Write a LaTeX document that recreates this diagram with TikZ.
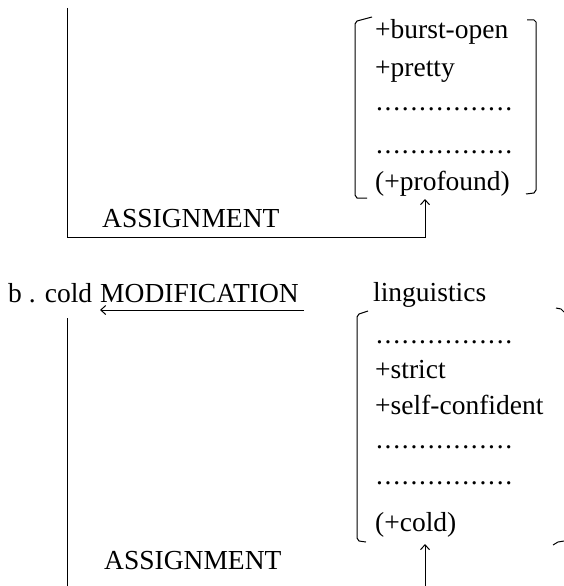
\documentclass[tikz,border=0pt]{standalone}
\usepackage{fontspec}
\setmainfont{Liberation Serif}
\usetikzlibrary{arrows.meta}
\newcommand\dotrow{\hbox to 138pt{\leaders\hbox to 8.625pt{\hss.\hss}\hfill}}
\begin{document}
\begin{tikzpicture}[x=1pt,y=-1pt,
  txt/.style={inner sep=0pt, anchor=base west, font=\fontsize{27.5}{30}\selectfont},
  ln/.style={line width=1pt},
  arr/.style={ln, -{Straight Barb[length=5pt,width=9pt]}}]
\useasboundingbox (0,0) rectangle (564,586);
% ---------- top part ----------
\node[txt] (burst) at (375,39) {+burst-open};
\node[txt] (pretty) at (375,76) {+pretty};
\node[txt] (d1) at (375,110) {\dotrow};
\node[txt] (d2) at (375,153) {\dotrow};
\node[txt] (prof) at (375,190) {(+profound)};
\node[txt] (assign1) at (102,227) {ASSIGNMENT};
% brackets
\draw[ln] (372,17) -- (357,21) -- (355,24) -- (355,195) -- (357,198) -- (367,198);
\draw[ln] (527,20) -- (534,20) -- (536,22) -- (536,190) -- (534,193) -- (526,194);
% connector
\coordinate (c1) at (67,8);
\coordinate (corner1) at (67,237);
\coordinate (tip1) at (425,199);
\draw[arr] (c1) -- (corner1) -| (tip1);
% ---------- bottom part ----------
\node[txt] (b) at (8,302) {b\hspace{7pt}.\hspace{9pt}cold};
\node[txt] (mod) at (100,302) {MODIFICATION};
\node[txt] (ling) at (373,301) {linguistics};
\node[txt] (d3) at (375,343) {\dotrow};
\node[txt] (strict) at (375,378) {+strict};
\node[txt] (self) at (375,414) {+self-confident};
\node[txt] (d4) at (375,448) {\dotrow};
\node[txt] (d5) at (375,484) {\dotrow};
\node[txt] (cold) at (375,531) {(+cold)};
\node[txt] (assign2) at (104,569) {ASSIGNMENT};
\draw[arr] ([xshift=5pt,yshift=-8pt]mod.base east) -- ([yshift=-8pt]mod.base west);
% brackets
\draw[ln] (368,311) -- (359,314) -- (357,317) -- (357,538) -- (359,541) -- (366,542);
\draw[ln] (556,308) -- (561,309) -- (564,312);
\draw[ln] (553,545) -- (558,542) -- (564,541);
% connectors
\coordinate (c2) at (67,318);
\coordinate (c3) at (67,586);
\draw[ln] (c2) -- (c3);
\coordinate (c4) at (425,586);
\coordinate (tip2) at (425,544);
\draw[arr] (c4) -- (tip2);
\end{tikzpicture}
\end{document}
